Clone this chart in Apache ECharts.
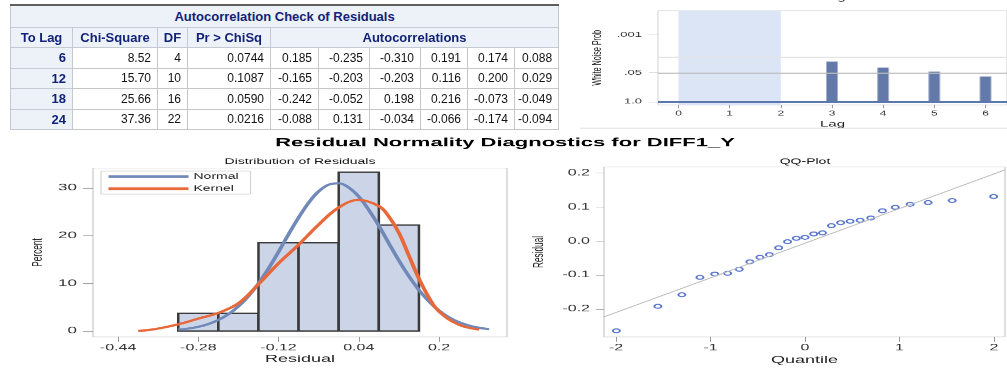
<!DOCTYPE html>
<html>
<head>
<meta charset="utf-8">
<script src="https://cdn.jsdelivr.net/npm/echarts@6/dist/echarts.min.js"></script>
<style>
html, body { margin: 0; padding: 0; background: #fff; }
#wrap { position: relative; width: 1007px; height: 370px; overflow: hidden; }
/* the reference picture is squashed vertically, so the chart is drawn taller and scaled down */
#main { position: absolute; left: 0; top: 0; width: 1007px; height: 673px; transform: scaleY(0.55); transform-origin: 0 0; }
#acf { position: absolute; left: 10px; top: 4px; width: 548px; border-collapse: collapse; table-layout: fixed;
       font-family: 'Liberation Sans', Arial, sans-serif; font-size: 12px; }
#acf th, #acf td { border: 1px solid #C6C6C6; white-space: nowrap; overflow: hidden; box-sizing: border-box; }
#acf th { background: #EDF2F9; color: #112277; font-weight: bold; font-size: 13px; text-align: center; border-color: #C3CAD3; padding: 0 5px; }
#acf th.rowh { text-align: right; padding-right: 6px; }
#acf td { text-align: right; color: #111; padding: 0 6px 0 2px; }
#acf tr.ttl th { border-top: 2px solid #5E5E5E; }
</style>
</head>
<body>
<div id="wrap">
  <div id="main"></div>
  <table id="acf"></table>
</div>
<script>
// ---------- table data ----------
var tableTitle = 'Autocorrelation Check of Residuals';
var tableHeads = ['To Lag', 'Chi-Square', 'DF', 'Pr > ChiSq', 'Autocorrelations'];
var toLag = [6, 12, 18, 24];
var chiSquare = ['8.52', '15.70', '25.66', '37.36'];
var degFree = [4, 10, 16, 22];
var prChiSq = ['0.0744', '0.1087', '0.0590', '0.0216'];
var autoCorr = [
    ['0.185', '-0.235', '-0.310', '0.191', '0.174', '0.088'],
    ['-0.165', '-0.203', '-0.203', '0.116', '0.200', '0.029'],
    ['-0.242', '-0.052', '0.198', '0.216', '-0.073', '-0.049'],
    ['-0.088', '0.131', '-0.034', '-0.066', '-0.174', '-0.094']
];
var colWidths = [62, 85, 30, 83, 48, 51, 51, 47, 47, 44];
var rowHeights = [22, 20, 21, 20, 21, 20];

// ---------- white noise plot ----------
var noiseLags = [3, 4, 5, 6];
var noiseLogP = [1.80, 1.53, 1.35, 1.13];   // heights on the -log10(prob) scale
var noiseLagTicks = [0, 1, 2, 3, 4, 5, 6];
var noiseProbTicks = [0, 1.301, 3];
var noiseProbLabels = ['1.0', '.05', '.001'];

// ---------- histogram ----------
var binMid = [-0.28, -0.20, -0.12, -0.04, 0.04, 0.12];
var binPct = [3.70, 3.70, 18.52, 18.52, 33.33, 22.22];
var binWidth = 0.08;
var normalX = [-0.32, -0.30, -0.28, -0.26, -0.24, -0.22, -0.20, -0.18, -0.16, -0.14, -0.12, -0.10, -0.08, -0.06, -0.04, -0.02,
    0.00, 0.02, 0.04, 0.06, 0.08, 0.10, 0.12, 0.14, 0.16, 0.18, 0.20, 0.22, 0.24, 0.26, 0.28, 0.30];
var normalY = [0.29, 0.51, 0.88, 1.45, 2.30, 3.51, 5.16, 7.32, 9.99, 13.1, 16.6, 20.3, 23.8, 26.9, 29.3, 30.7,
    31.0, 30.1, 28.2, 25.4, 22.1, 18.4, 14.8, 11.5, 8.6, 6.2, 4.3, 2.85, 1.83, 1.13, 0.67, 0.39];
var kernelX = [-0.40, -0.38, -0.36, -0.32, -0.28, -0.24, -0.20, -0.16, -0.12, -0.08, -0.04, 0.00, 0.04, 0.08, 0.10, 0.12, 0.14, 0.16, 0.18, 0.20, 0.24, 0.28];
var kernelY = [0.0, 0.2, 0.5, 1.4, 2.6, 3.8, 5.8, 9.8, 14.2, 18.1, 22.3, 25.9, 27.5, 26.2, 24.0, 20.6, 15.8, 11.0, 7.0, 4.1, 1.3, 0.3];
var residualTicks = [-0.44, -0.28, -0.12, 0.04, 0.2];
var percentTicks = [0, 10, 20, 30];

// ---------- QQ plot ----------
var qqQuantile = [-1.996, -1.557, -1.303, -1.112, -0.955, -0.819, -0.696, -0.583, -0.477, -0.377, -0.279, -0.185, -0.092, 0,
    0.092, 0.185, 0.279, 0.377, 0.477, 0.583, 0.696, 0.819, 0.955, 1.112, 1.303, 1.557, 1.996];
var qqResidual = [-0.264, -0.192, -0.158, -0.107, -0.097, -0.095, -0.083, -0.061, -0.048, -0.040, -0.020, -0.002, 0.008, 0.011,
    0.021, 0.024, 0.045, 0.054, 0.058, 0.061, 0.068, 0.089, 0.099, 0.108, 0.113, 0.119, 0.131];
var qqLineX = [-2.127, 2.116];
var qqLineY = [-0.223, 0.209];
var qqXTicks = [-2, -1, 0, 1, 2];
var qqYTicks = [-0.2, -0.1, 0, 0.1, 0.2];

var FONT = "'Liberation Sans', Arial, sans-serif";

// build the table
function buildTable() {
    var h = '<colgroup>';
    colWidths.forEach(function (w) { h += '<col style="width:' + w + 'px">'; });
    h += '</colgroup>';
    h += '<tr class="ttl" style="height:' + rowHeights[0] + 'px"><th colspan="10">' + tableTitle + '</th></tr>';
    h += '<tr style="height:' + rowHeights[1] + 'px">';
    tableHeads.forEach(function (t, i) {
        h += '<th' + (i === 4 ? ' colspan="6"' : '') + '>' + t.replace('>', '&gt;') + '</th>';
    });
    h += '</tr>';
    toLag.forEach(function (lag, r) {
        h += '<tr style="height:' + rowHeights[r + 2] + 'px"><th class="rowh">' + lag + '</th>';
        h += '<td>' + chiSquare[r] + '</td><td>' + degFree[r] + '</td><td>' + prChiSq[r] + '</td>';
        autoCorr[r].forEach(function (v) { h += '<td>' + v + '</td>'; });
        h += '</tr>';
    });
    document.getElementById('acf').innerHTML = h;
}
buildTable();

function pairs(xs, ys) {
    return xs.map(function (x, i) { return [x, ys[i]]; });
}

var tickStyle = { color: '#9A9A9A' };
var labelColor = '#333';
var noLine = { show: false, onZero: false };

var chart = echarts.init(document.getElementById('main'));
var option = {
    animation: false,
    textStyle: { fontFamily: FONT },
    graphic: [
        { type: 'text', x: 833, y: -4, style: { text: 'Lag', font: '15px ' + FONT, fill: '#333', align: 'center', verticalAlign: 'middle' } },
        { type: 'line', shape: { x1: 580, y1: 233, x2: 1007, y2: 233 }, style: { stroke: '#E6E6E6', lineWidth: 2 } },
        { type: 'text', x: 505, y: 260, style: { text: 'Residual Normality Diagnostics for DIFF1_Y', font: 'bold 22px ' + FONT, fill: '#000', align: 'center', verticalAlign: 'middle' } },
        { type: 'text', x: 300, y: 294, style: { text: 'Distribution of Residuals', font: '14px ' + FONT, fill: '#111', align: 'center', verticalAlign: 'middle' } },
        { type: 'text', x: 805, y: 294, style: { text: 'QQ-Plot', font: '14px ' + FONT, fill: '#111', align: 'center', verticalAlign: 'middle' } }
    ],
    legend: {
        data: ['Normal', 'Kernel'],
        orient: 'vertical',
        left: 101, top: 311,
        itemWidth: 80, itemHeight: 14, itemGap: 8,
        padding: [3, 12, 3, 5],
        borderColor: '#CCCCCC', borderWidth: 1,
        itemStyle: { opacity: 0 },
        lineStyle: { width: 5 },
        textStyle: { fontSize: 14, color: '#222', fontFamily: FONT }
    },
    grid: [
        { left: 658, right: -3, top: 19.5, height: 171.4, show: true, borderColor: '#D2D2D2', borderWidth: 1, containLabel: false },
        { left: 93, top: 305.5, width: 414, height: 307.2, show: true, borderColor: '#BDBDBD', borderWidth: 1, containLabel: false },
        { left: 604, top: 303.6, width: 401, height: 309.1, show: true, borderColor: '#BDBDBD', borderWidth: 1, containLabel: false }
    ],
    xAxis: [
        {
            gridIndex: 0, type: 'value', min: -0.4, max: 6.42,
            axisLine: noLine, splitLine: { show: false },
            axisTick: { customValues: noiseLagTicks, length: 6, lineStyle: tickStyle },
            axisLabel: { customValues: noiseLagTicks, fontSize: 12, color: labelColor, margin: 10 },
            name: 'Lag', nameLocation: 'middle', nameGap: 27,
            nameTextStyle: { fontSize: 15, color: '#222' }
        },
        {
            gridIndex: 1, type: 'value', min: -0.49, max: 0.3356,
            axisLine: noLine, splitLine: { show: false },
            axisTick: { customValues: residualTicks, length: 9, lineStyle: tickStyle },
            axisLabel: { customValues: residualTicks, fontSize: 16, color: labelColor, margin: 12 },
            name: 'Residual', nameLocation: 'middle', nameGap: 31,
            nameTextStyle: { fontSize: 18, color: '#222' }
        },
        {
            gridIndex: 2, type: 'value', min: -2.127, max: 2.116,
            axisLine: noLine, splitLine: { show: false },
            axisTick: { customValues: qqXTicks, length: 9, lineStyle: tickStyle },
            axisLabel: { customValues: qqXTicks, fontSize: 16, color: labelColor, margin: 12 },
            name: 'Quantile', nameLocation: 'middle', nameGap: 33,
            nameTextStyle: { fontSize: 18, color: '#222' }
        }
    ],
    yAxis: [
        {
            gridIndex: 0, type: 'value', min: -0.148, max: 4.09,
            axisLine: noLine, splitLine: { show: false },
            axisTick: { customValues: noiseProbTicks, length: 9, lineStyle: tickStyle },
            axisLabel: {
                customValues: noiseProbTicks, fontSize: 13, color: labelColor, margin: 16,
                formatter: function (v) { return noiseProbLabels[noiseProbTicks.indexOf(v)]; }
            },
            name: 'White Noise Prob', nameLocation: 'middle', nameRotate: 90, nameGap: 54,
            nameTextStyle: { fontSize: 13, color: '#222' }
        },
        {
            gridIndex: 1, type: 'value', min: -1.26, max: 34.19,
            axisLine: noLine, splitLine: { show: false },
            axisTick: { customValues: percentTicks, length: 10, lineStyle: tickStyle },
            axisLabel: { customValues: percentTicks, fontSize: 17, color: labelColor, margin: 16 },
            name: 'Percent', nameLocation: 'middle', nameRotate: 90, nameGap: 48,
            nameTextStyle: { fontSize: 15, color: '#222' }
        },
        {
            gridIndex: 2, type: 'value', min: -0.2823, max: 0.2177,
            axisLine: noLine, splitLine: { show: false },
            axisTick: { customValues: qqYTicks, length: 8, lineStyle: tickStyle },
            axisLabel: {
                customValues: qqYTicks, fontSize: 16, color: labelColor, margin: 14,
                formatter: function (v) { return v.toFixed(1); }
            },
            name: 'Residual', nameLocation: 'middle', nameRotate: 90, nameGap: 58,
            nameTextStyle: { fontSize: 15, color: '#222' }
        }
    ],
    series: [
        {
            type: 'custom', xAxisIndex: 0, yAxisIndex: 0, silent: true,
            data: pairs(noiseLags, noiseLogP),
            renderItem: function (params, api) {
                var top = api.coord([api.value(0), api.value(1)]);
                var base = api.coord([api.value(0), 0]);
                return {
                    type: 'rect',
                    shape: { x: top[0] - 5.5, y: top[1], width: 11, height: base[1] - top[1] },
                    style: { fill: '#6279A9', stroke: '#A3B1CF', lineWidth: 1 }
                };
            },
            markArea: {
                silent: true,
                itemStyle: { color: '#DCE5F5' },
                data: [[{ xAxis: 0 }, { xAxis: 2 }]]
            },
            markLine: {
                silent: true, symbol: 'none', label: { show: false },
                data: [
                    { yAxis: 2, lineStyle: { color: '#E4E4E4', width: 2, type: 'solid' } },
                    { yAxis: noiseProbTicks[1], lineStyle: { color: '#BDBDBD', width: 2, type: 'solid' } },
                    { yAxis: 0, lineStyle: { color: '#5C76AE', width: 3, type: 'solid' } }
                ]
            }
        },
        {
            type: 'custom', xAxisIndex: 1, yAxisIndex: 1, silent: true,
            data: pairs(binMid, binPct),
            renderItem: function (params, api) {
                var p0 = api.coord([api.value(0) - binWidth / 2, api.value(1)]);
                var p1 = api.coord([api.value(0) + binWidth / 2, 0]);
                return {
                    type: 'rect',
                    shape: { x: p0[0], y: p0[1], width: p1[0] - p0[0], height: p1[1] - p0[1] },
                    style: { fill: '#CCD5E7', stroke: '#3A3A3A', lineWidth: 2.5 }
                };
            }
        },
        {
            name: 'Normal', type: 'line', xAxisIndex: 1, yAxisIndex: 1,
            data: pairs(normalX, normalY), smooth: 0.4, symbol: 'none',
            lineStyle: { color: '#7189B9', width: 4 }, itemStyle: { color: '#7189B9' }
        },
        {
            name: 'Kernel', type: 'line', xAxisIndex: 1, yAxisIndex: 1,
            data: pairs(kernelX, kernelY), smooth: 0.4, symbol: 'none',
            lineStyle: { color: '#E8683A', width: 4 }, itemStyle: { color: '#E8683A' }
        },
        {
            type: 'line', xAxisIndex: 2, yAxisIndex: 2, silent: true,
            data: pairs(qqLineX, qqLineY), symbol: 'none',
            lineStyle: { color: '#BBBBBB', width: 1.5 }
        },
        {
            type: 'scatter', xAxisIndex: 2, yAxisIndex: 2,
            data: pairs(qqQuantile, qqResidual),
            symbol: 'emptyCircle', symbolSize: 7,
            itemStyle: { color: '#2F55C4', borderColor: '#2F55C4', borderWidth: 1.6 }
        }
    ]
};
chart.setOption(option);
</script>
</body>
</html>
